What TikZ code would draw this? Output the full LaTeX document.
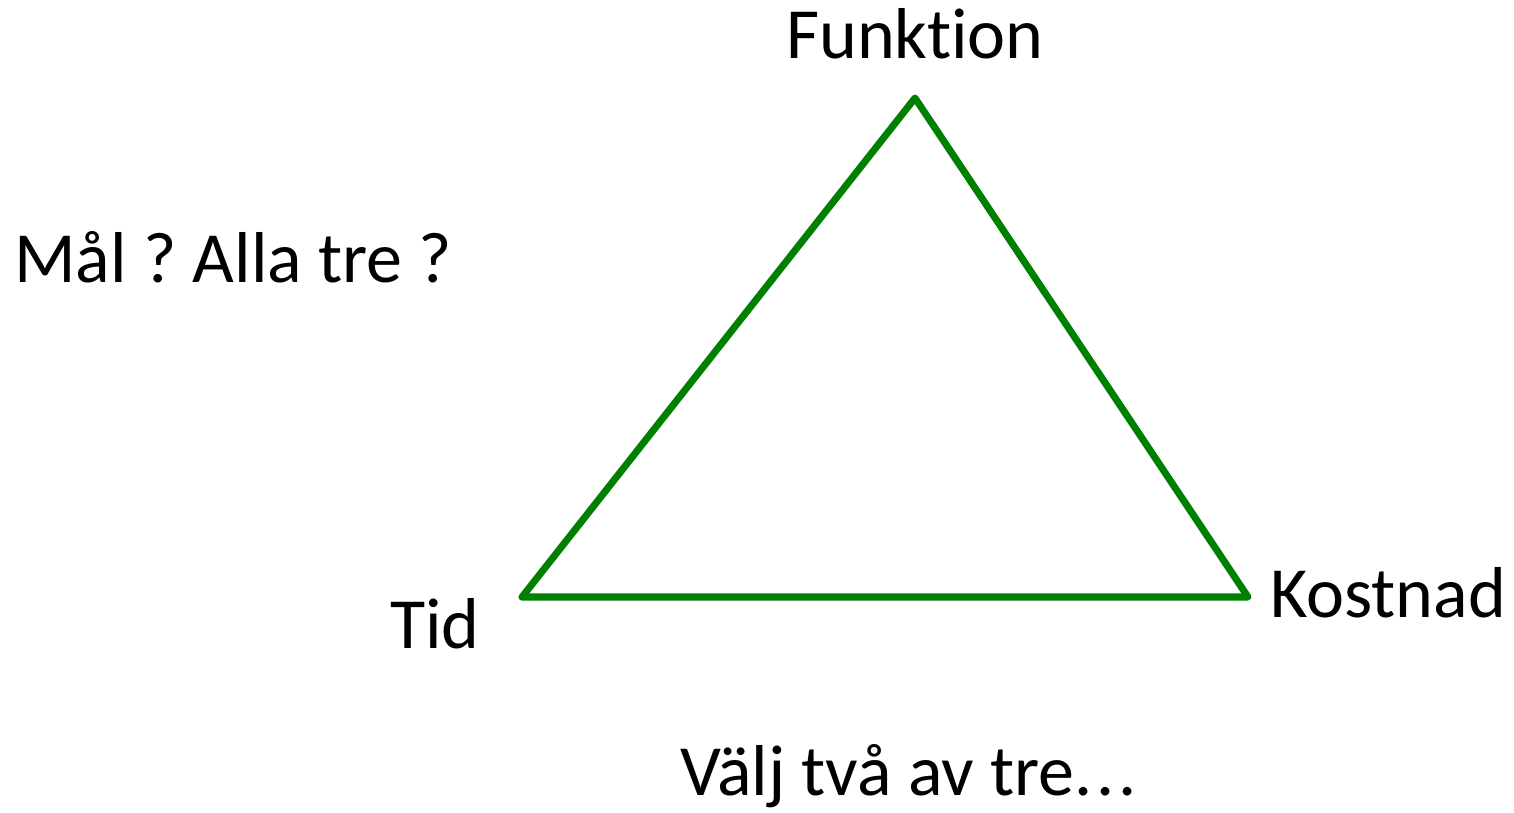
\documentclass[tikz,border=0pt]{standalone}
\usepackage{fontspec}
\setmainfont{Carlito}[Ligatures=NoCommon]
\usepackage{xcolor}
\definecolor{edgegreen}{RGB}{0,128,0}
\usetikzlibrary{positioning}
\frenchspacing

\begin{document}
\begin{tikzpicture}[
            x=0.02cm, y=-0.02cm,
            label/.style={
                inner sep=0pt,
                font=\fontsize{41}{49}\selectfont
            },
            edge/.style={
                draw=edgegreen,
                line width=4pt,
                line join=round
            }
        ]
            \useasboundingbox (0,0) rectangle (1514,812);

            % --- ECKEN ---
            \coordinate (funktion_c) at (915,98);
            \coordinate (tid_c) at (522,597);
            \coordinate (kostnad_c) at (1248,597);

            % --- TEXTE ---
            \node [label, anchor=base] (funktion) at (915,58) {Funktion};
            \node [label, anchor=base west] (tid) at (390,648) {Tid};
            \node [label, anchor=base west] (kostnad) at (1270,617) {Kostnad};
            \node [label, anchor=base west] (mal) at (14,282) {Mål ? Alla tre ?};
            \node [label, anchor=base west] (valj) at (680,795) {Välj två av tre.\kern2.3pt.\kern2.3pt.};

            % --- DREIECK ---
            \path [edge] (funktion_c) -- (kostnad_c) -- (tid_c) -- cycle;
        \end{tikzpicture}
\end{document}
